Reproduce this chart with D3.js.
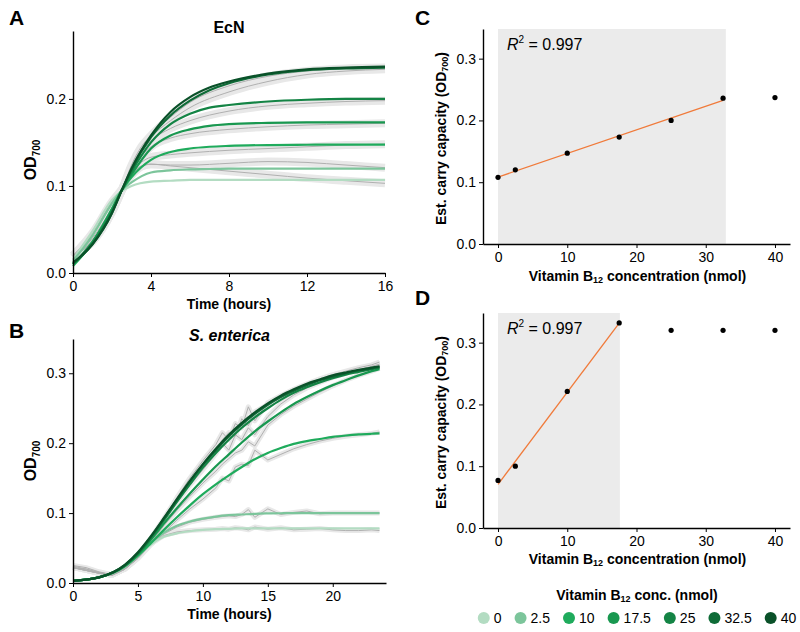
<!DOCTYPE html>
<html>
<head>
<meta charset="utf-8">
<script src="https://cdn.jsdelivr.net/npm/d3@7"></script>
<style>
  body { margin: 0; background: #fff; }
  text { font-family: "Liberation Sans", Arial, sans-serif; fill: #000; }
</style>
</head>
<body>
<svg id="fig" width="800" height="632"></svg>
<script>
// vitamin B12 concentrations (nmol) and their colours
const concs = [0, 2.5, 10, 17.5, 25, 32.5, 40];
const concLabels = ['0', '2.5', '10', '17.5', '25', '32.5', '40'];
const greens = ['#b3dcc2', '#7cc59b', '#1fab5c', '#199850', '#148445', '#0e6b37', '#0a5129'];

// panel A - EcN growth, fitted curves
const ecnTimes = [0, 1, 2, 2.5, 3, 4, 5, 6, 7, 8, 10, 12, 14, 16];
const ecnFit0    = [0.016, 0.048, 0.084, 0.094, 0.100, 0.105, 0.106, 0.107, 0.107, 0.107, 0.107, 0.107, 0.107, 0.107];
const ecnFit2_5  = [0.014, 0.043, 0.080, 0.095, 0.104, 0.1155, 0.118, 0.119, 0.1195, 0.120, 0.120, 0.120, 0.120, 0.120];
const ecnFit10   = [0.008, 0.035, 0.074, 0.095, 0.110, 0.130, 0.139, 0.143, 0.145, 0.146, 0.147, 0.1473, 0.1475, 0.1475];
const ecnFit17_5 = [0.010, 0.036, 0.073, 0.095, 0.113, 0.143, 0.158, 0.165, 0.169, 0.171, 0.1725, 0.173, 0.173, 0.173];
const ecnFit25   = [0.010, 0.034, 0.071, 0.095, 0.116, 0.150, 0.171, 0.183, 0.190, 0.193, 0.197, 0.199, 0.200, 0.200];
const ecnFit32_5 = [0.011, 0.033, 0.069, 0.095, 0.119, 0.156, 0.181, 0.198, 0.210, 0.218, 0.228, 0.233, 0.235, 0.236];
const ecnFit40   = [0.012, 0.033, 0.069, 0.095, 0.120, 0.158, 0.185, 0.202, 0.213, 0.220, 0.229, 0.234, 0.236, 0.237];

// panel A - EcN measured means
const ecnRawTimes = [0, 1, 2, 2.5, 3, 3.5, 4, 5, 6, 8, 10, 12, 14, 16];
const ecnRaw0    = [0.020, 0.046, 0.082, 0.096, 0.113, 0.123, 0.125, 0.123, 0.121, 0.117, 0.113, 0.109, 0.106, 0.103];
const ecnRaw2_5  = [0.020, 0.044, 0.079, 0.095, 0.112, 0.122, 0.125, 0.124, 0.124, 0.126, 0.128, 0.127, 0.124, 0.121];
const ecnRaw10   = [0.018, 0.040, 0.075, 0.095, 0.115, 0.127, 0.133, 0.136, 0.138, 0.141, 0.143, 0.145, 0.147, 0.148];
const ecnRaw17_5 = [0.018, 0.038, 0.073, 0.095, 0.118, 0.134, 0.145, 0.155, 0.160, 0.165, 0.168, 0.170, 0.171, 0.172];
const ecnRaw25   = [0.018, 0.037, 0.071, 0.095, 0.120, 0.140, 0.152, 0.166, 0.175, 0.186, 0.192, 0.195, 0.197, 0.198];
const ecnRaw32_5 = [0.020, 0.036, 0.070, 0.095, 0.122, 0.142, 0.156, 0.175, 0.190, 0.208, 0.220, 0.228, 0.232, 0.234];
const ecnRaw40   = [0.020, 0.036, 0.070, 0.095, 0.124, 0.145, 0.158, 0.179, 0.196, 0.215, 0.226, 0.232, 0.235, 0.236];

// panel B - S. enterica growth, fitted curves
const entTimes = [0, 2, 4, 5, 6, 7, 8, 9, 10, 11, 12, 13, 14, 15, 16, 17, 18, 19, 20, 21, 22, 23, 23.6];
const entFit0    = [0.003, 0.008, 0.024, 0.039, 0.055, 0.066, 0.071, 0.074, 0.076, 0.077, 0.0775, 0.078, 0.078, 0.078, 0.078, 0.078, 0.078, 0.078, 0.078, 0.078, 0.078, 0.078, 0.078];
const entFit2_5  = [0.003, 0.008, 0.024, 0.040, 0.058, 0.072, 0.082, 0.088, 0.092, 0.095, 0.097, 0.098, 0.099, 0.0995, 0.0998, 0.100, 0.100, 0.100, 0.100, 0.100, 0.100, 0.100, 0.100];
const entFit10   = [0.003, 0.008, 0.024, 0.039, 0.057, 0.076, 0.094, 0.111, 0.127, 0.141, 0.154, 0.166, 0.177, 0.186, 0.193, 0.199, 0.203, 0.206, 0.209, 0.211, 0.2125, 0.2135, 0.214];
const entFit17_5 = [0.003, 0.008, 0.025, 0.041, 0.062, 0.085, 0.107, 0.128, 0.148, 0.167, 0.184, 0.201, 0.217, 0.231, 0.244, 0.256, 0.266, 0.275, 0.283, 0.290, 0.297, 0.303, 0.306];
const entFit25   = [0.003, 0.008, 0.025, 0.042, 0.064, 0.090, 0.116, 0.141, 0.165, 0.186, 0.205, 0.222, 0.237, 0.250, 0.262, 0.272, 0.280, 0.287, 0.293, 0.298, 0.302, 0.306, 0.308];
const entFit32_5 = [0.003, 0.008, 0.026, 0.043, 0.066, 0.092, 0.119, 0.145, 0.169, 0.190, 0.210, 0.227, 0.242, 0.255, 0.266, 0.275, 0.283, 0.290, 0.295, 0.300, 0.304, 0.307, 0.309];
const entFit40   = [0.003, 0.008, 0.026, 0.044, 0.067, 0.093, 0.120, 0.146, 0.170, 0.192, 0.212, 0.229, 0.244, 0.257, 0.268, 0.277, 0.285, 0.291, 0.297, 0.301, 0.305, 0.308, 0.310];

// panel B - S. enterica measured means
const entRawTimes = [0, 1, 2, 3, 4, 5, 6, 7, 8, 9, 10, 11, 11.5, 12, 12.5, 13, 13.5, 14, 15, 16, 17, 18, 19, 20, 21, 22, 23, 23.6];
const entRaw0    = [0.022, 0.018, 0.014, 0.011, 0.020, 0.036, 0.056, 0.068, 0.073, 0.075, 0.076, 0.077, 0.078, 0.077, 0.079, 0.078, 0.076, 0.080, 0.077, 0.079, 0.076, 0.077, 0.078, 0.076, 0.075, 0.075, 0.076, 0.075];
const entRaw2_5  = [0.022, 0.018, 0.014, 0.011, 0.020, 0.036, 0.056, 0.070, 0.080, 0.087, 0.091, 0.094, 0.095, 0.096, 0.095, 0.098, 0.105, 0.094, 0.106, 0.098, 0.101, 0.103, 0.099, 0.100, 0.100, 0.100, 0.100, 0.100];
const entRaw10   = [0.022, 0.018, 0.014, 0.011, 0.020, 0.035, 0.055, 0.072, 0.090, 0.106, 0.120, 0.136, 0.150, 0.146, 0.166, 0.170, 0.168, 0.190, 0.176, 0.184, 0.192, 0.198, 0.203, 0.207, 0.210, 0.212, 0.214, 0.216];
const entRaw17_5 = [0.022, 0.018, 0.014, 0.011, 0.020, 0.036, 0.058, 0.082, 0.104, 0.124, 0.143, 0.160, 0.170, 0.178, 0.186, 0.190, 0.202, 0.196, 0.226, 0.241, 0.253, 0.263, 0.273, 0.282, 0.290, 0.297, 0.303, 0.307];
const entRaw25   = [0.022, 0.020, 0.015, 0.011, 0.020, 0.037, 0.060, 0.088, 0.115, 0.140, 0.162, 0.185, 0.200, 0.190, 0.212, 0.205, 0.222, 0.212, 0.238, 0.256, 0.269, 0.279, 0.287, 0.294, 0.300, 0.305, 0.309, 0.311];
const entRaw32_5 = [0.024, 0.020, 0.015, 0.012, 0.020, 0.038, 0.062, 0.090, 0.120, 0.145, 0.170, 0.190, 0.205, 0.215, 0.210, 0.235, 0.225, 0.245, 0.255, 0.265, 0.275, 0.283, 0.290, 0.296, 0.301, 0.305, 0.310, 0.313];
const entRaw40   = [0.025, 0.022, 0.016, 0.012, 0.022, 0.040, 0.064, 0.092, 0.122, 0.150, 0.175, 0.198, 0.215, 0.205, 0.228, 0.222, 0.252, 0.232, 0.258, 0.268, 0.277, 0.285, 0.292, 0.298, 0.303, 0.308, 0.312, 0.316];

// panels C and D - estimated carrying capacity
const capEcN = [0.108, 0.120, 0.147, 0.173, 0.200, 0.236, 0.237];
const capEnt = [0.077, 0.100, 0.221, 0.332, 0.320, 0.320, 0.320];
const fitRangeEcN = [0, 32.9];   // shaded region used for the linear fit
const fitRangeEnt = [0, 17.6];
const r2EcN = '0.997';
const r2Ent = '0.997';

const ecnFits = [ecnFit0, ecnFit2_5, ecnFit10, ecnFit17_5, ecnFit25, ecnFit32_5, ecnFit40];
const ecnRaws = [ecnRaw0, ecnRaw2_5, ecnRaw10, ecnRaw17_5, ecnRaw25, ecnRaw32_5, ecnRaw40];
const entFits = [entFit0, entFit2_5, entFit10, entFit17_5, entFit25, entFit32_5, entFit40];
const entRaws = [entRaw0, entRaw2_5, entRaw10, entRaw17_5, entRaw25, entRaw32_5, entRaw40];

const svg = d3.select('#fig');

function styleAxis(g) {
  g.select('.domain').attr('stroke', '#000').attr('stroke-width', 1.4);
  g.selectAll('.tick line').attr('stroke', '#000').attr('stroke-width', 1);
  g.selectAll('.tick text').style('font-size', '14px').attr('fill', '#000');
}

function drawAxes(x, y, xTicks, yTicks, xFmt) {
  svg.append('g')
    .attr('transform', `translate(0,${y.range()[0]})`)
    .call(d3.axisBottom(x).tickValues(xTicks).tickSize(4).tickSizeOuter(0).tickPadding(4).tickFormat(xFmt))
    .call(styleAxis);
  svg.append('g')
    .attr('transform', `translate(${x.range()[0]},0)`)
    .call(d3.axisLeft(y).tickValues(yTicks).tickSize(4).tickSizeOuter(0).tickPadding(3).tickFormat(d3.format('.1f')))
    .call(styleAxis);
}

function panelLetter(txt, x, y) {
  svg.append('text').attr('x', x).attr('y', y).style('font-size', '21px')
    .style('font-weight', 'bold').text(txt);
}

function odLabel(cx, cy) {
  const t = svg.append('text')
    .attr('transform', `translate(${cx},${cy}) rotate(-90)`)
    .attr('text-anchor', 'middle')
    .style('font-size', '16px').style('font-weight', 'bold');
  t.append('tspan').text('OD');
  t.append('tspan').attr('dy', 4).style('font-size', '10px').text('700');
}

function growthPanel(opts) {
  const { x, y, times, fits, rawTimes, raws, title, italic, rawCurve } = opts;

  const fitLine = d3.line().x((d, i) => x(times[i])).y(d => y(d)).curve(d3.curveMonotoneX);
  const rawLine = d3.line().x((d, i) => x(rawTimes[i])).y(d => y(d)).curve(rawCurve);

  // ribbons (spread between replicates), then the mean lines
  svg.append('g').selectAll('path').data(raws).join('path')
    .attr('d', rawLine).attr('fill', 'none')
    .attr('stroke', '#e8e8e8').attr('stroke-width', opts.ribbonWidth).attr('stroke-linejoin', 'round');
  svg.append('g').selectAll('path').data(raws).join('path')
    .attr('d', rawLine).attr('fill', 'none')
    .attr('stroke', '#b0b0b0').attr('stroke-width', 1);

  svg.append('g').selectAll('path').data(fits).join('path')
    .attr('d', fitLine).attr('fill', 'none')
    .attr('stroke', (d, i) => greens[i]).attr('stroke-width', 2.2);

  svg.append('text')
    .attr('x', (x.range()[0] + x.range()[1]) / 2)
    .attr('y', opts.titleY)
    .attr('text-anchor', 'middle')
    .style('font-size', '16px').style('font-weight', 'bold')
    .style('font-style', italic ? 'italic' : 'normal')
    .text(title);

  drawAxes(x, y, opts.xTicks, opts.yTicks, d3.format('d'));

  svg.append('text')
    .attr('x', (x.range()[0] + x.range()[1]) / 2)
    .attr('y', opts.xLabelY)
    .attr('text-anchor', 'middle')
    .style('font-size', '14px').style('font-weight', 'bold')
    .text('Time (hours)');

  odLabel(opts.yLabelX, (y.range()[0] + y.range()[1]) / 2 + opts.yLabelShift);
}

function capacityPanel(opts) {
  const { x, y, caps, fitRange, r2 } = opts;
  const y0 = y.range()[0], y1 = y.range()[1];

  svg.append('rect')
    .attr('x', x(fitRange[0])).attr('y', y1)
    .attr('width', x(fitRange[1]) - x(fitRange[0]))
    .attr('height', y0 - y1)
    .attr('fill', '#ebebeb');

  // least-squares line over the points inside the shaded range
  const pts = concs.map((c, i) => [c, caps[i]]).filter(p => p[0] <= fitRange[1]);
  const mx = d3.mean(pts, p => p[0]), my = d3.mean(pts, p => p[1]);
  const slope = d3.sum(pts, p => (p[0] - mx) * (p[1] - my)) / d3.sum(pts, p => (p[0] - mx) ** 2);
  const icpt = my - slope * mx;
  const xEnd = d3.max(pts, p => p[0]);
  svg.append('path')
    .datum([0, xEnd])
    .attr('d', d3.line().x(d => x(d)).y(d => y(icpt + slope * d)))
    .attr('stroke', '#f07a3a').attr('stroke-width', 1.3).attr('fill', 'none');

  svg.append('g').selectAll('circle').data(caps).join('circle')
    .attr('cx', (d, i) => x(concs[i])).attr('cy', d => y(d))
    .attr('r', 2.6).attr('fill', '#000');

  const rt = svg.append('text').attr('x', x.range()[0] + 24).attr('y', y1 + 21)
    .style('font-size', '16px');
  rt.append('tspan').style('font-style', 'italic').text('R');
  rt.append('tspan').attr('dy', -7).style('font-size', '10px').text('2');
  rt.append('tspan').attr('dy', 7).text(' = ' + r2);

  drawAxes(x, y, [0, 10, 20, 30, 40], [0, 0.1, 0.2, 0.3], d3.format('d'));

  const xl = svg.append('text')
    .attr('x', (x.range()[0] + x.range()[1]) / 2 + 1)
    .attr('y', opts.xLabelY)
    .attr('text-anchor', 'middle')
    .style('font-size', '14px').style('font-weight', 'bold');
  xl.append('tspan').text('Vitamin B');
  xl.append('tspan').attr('dy', 2).style('font-size', '9px').text('12');
  xl.append('tspan').attr('dy', -2).text(' concentration (nmol)');

  const yl = svg.append('text')
    .attr('transform', `translate(${opts.yLabelX},${(y0 + y1) / 2 + 2}) rotate(-90)`)
    .attr('text-anchor', 'middle')
    .style('font-size', '14px').style('font-weight', 'bold');
  yl.append('tspan').text('Est. carry capacity (OD');
  yl.append('tspan').attr('dy', 2).style('font-size', '9px').text('700');
  yl.append('tspan').attr('dy', -2).text(')');
}

// ---- panel A
const xA = d3.scaleLinear().domain([0, 16]).range([73, 385]);
const yA = d3.scaleLinear().domain([0, 0.278]).range([273, 31]);
growthPanel({
  x: xA, y: yA, times: ecnTimes, fits: ecnFits, rawTimes: ecnRawTimes, raws: ecnRaws,
  rawCurve: d3.curveMonotoneX, title: 'EcN', italic: false, titleY: 33, ribbonWidth: 8,
  xTicks: [0, 4, 8, 12, 16], yTicks: [0, 0.1, 0.2], xLabelY: 309,
  yLabelX: 36, yLabelShift: 8
});
panelLetter('A', 9, 25);

// ---- panel B
const xB = d3.scaleLinear().domain([0, 24.1]).range([73, 386]);
const yB = d3.scaleLinear().domain([0, 0.349]).range([583, 339]);
growthPanel({
  x: xB, y: yB, times: entTimes, fits: entFits, rawTimes: entRawTimes, raws: entRaws,
  rawCurve: d3.curveLinear, title: 'S. enterica', italic: true, titleY: 341, ribbonWidth: 5,
  xTicks: [0, 5, 10, 15, 20], yTicks: [0, 0.1, 0.2, 0.3], xLabelY: 619,
  yLabelX: 36, yLabelShift: 0
});
panelLetter('B', 9, 338);

// ---- panel C
const xC = d3.scaleLinear().domain([-2.17, 42.17]).range([483, 790]);
const yC = d3.scaleLinear().domain([0, 0.348]).range([244, 29]);
capacityPanel({ x: xC, y: yC, caps: capEcN, fitRange: fitRangeEcN, r2: r2EcN, xLabelY: 281, yLabelX: 446 });
panelLetter('C', 415, 25);

// ---- panel D
const yD = d3.scaleLinear().domain([0, 0.348]).range([528, 313]);
capacityPanel({ x: xC, y: yD, caps: capEnt, fitRange: fitRangeEnt, r2: r2Ent, xLabelY: 564, yLabelX: 446 });
panelLetter('D', 415, 305);

// ---- legend
const lt = svg.append('text').attr('x', 637).attr('y', 600).attr('text-anchor', 'middle')
  .style('font-size', '14px').style('font-weight', 'bold');
lt.append('tspan').text('Vitamin B');
lt.append('tspan').attr('dy', 2).style('font-size', '9px').text('12');
lt.append('tspan').attr('dy', -2).text(' conc. (nmol)');

const leg = svg.append('g');
let cursor = 0;
concLabels.forEach((lab, i) => {
  const item = leg.append('g').attr('transform', `translate(${cursor},0)`);
  item.append('circle').attr('cx', 6).attr('cy', 0).attr('r', 6).attr('fill', greens[i]);
  const t = item.append('text').attr('x', 16).attr('y', 5).style('font-size', '14px').text(lab);
  cursor += 16 + t.node().getComputedTextLength() + 13;
});
const legW = cursor - 13;
leg.attr('transform', `translate(${637 - legW / 2},618)`);
</script>
</body>
</html>
